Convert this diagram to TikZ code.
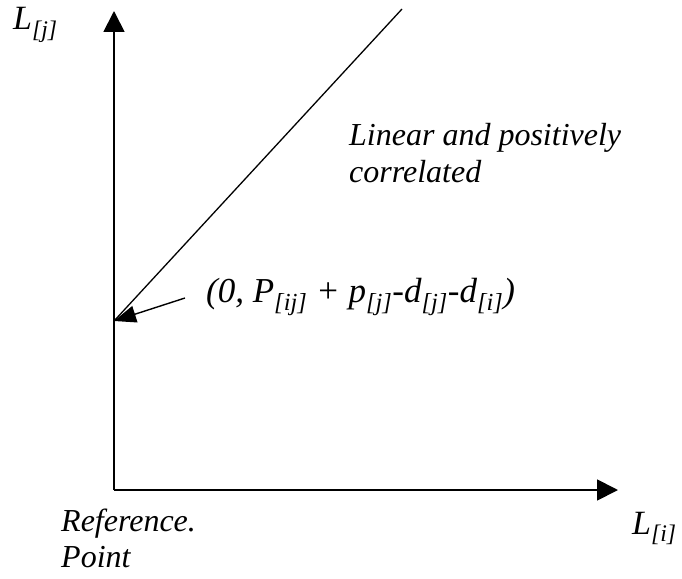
\documentclass[tikz,border=0pt]{standalone}
\usepackage{fontspec}
\setmainfont{Liberation Serif}
\usetikzlibrary{arrows.meta}
\begin{document}
\begin{tikzpicture}[x=1pt,y=-1pt,
  axis/.style={line width=1.8pt,-{Triangle[length=21pt,width=21pt]}},
  pointer/.style={line width=1.4pt,-{Triangle[length=22pt,width=17pt]}},
  lbl/.style={inner sep=0pt,anchor=base west},
  txt/.style={font=\itshape\fontsize{32}{37}\selectfont},
  big/.style={font=\itshape\fontsize{34}{38}\selectfont}]
\useasboundingbox (0,0) rectangle (682,578);
\coordinate (O) at (114,490);
\coordinate (ytip) at (114,11);
\coordinate (xtip) at (618,490);
\coordinate (icpt) at (114,321);
\coordinate (top) at (402,9);
\draw[axis] (O) -- (ytip);
\draw[axis] (O) -- (xtip);
\draw[line width=1.3pt] (icpt) -- (top);
\node[lbl,big] (Lj) at (13,30) {L\textsubscript{[j]}};
\node[lbl,big] (Li) at (632,534) {L\textsubscript{[i]}};
\node[lbl,txt] (lin) at (349,145) {Linear and positively};
\node[lbl,txt] (cor) at (349,182) {correlated};
\node[lbl,font=\itshape\fontsize{35}{40}\selectfont] (form) at (206,302) {(0, P\textsubscript{[ij]} + p\textsubscript{[j]}-d\textsubscript{[j]}-d\textsubscript{[i]})};
\node[lbl,txt] (ref) at (61,531) {Reference.};
\node[lbl,txt] (pt) at (61,567) {Point};
\coordinate (ps) at (185,298);
\draw[pointer] (ps) -- (icpt);
\end{tikzpicture}
\end{document}
